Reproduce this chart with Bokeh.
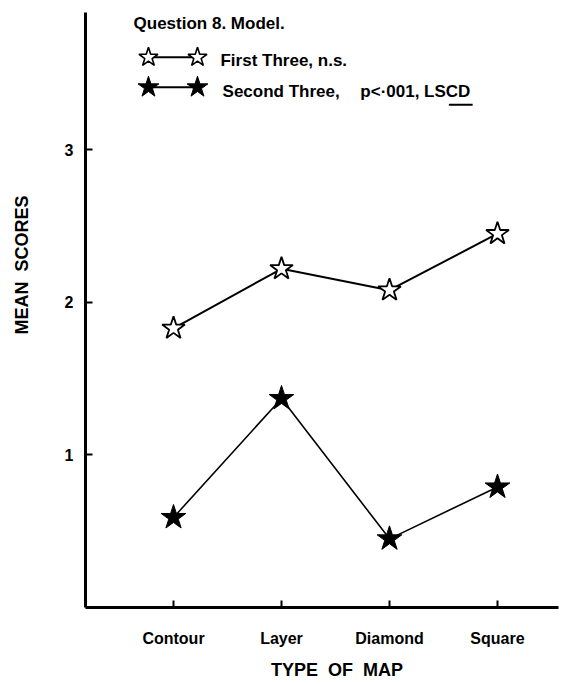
import math
from bokeh.plotting import figure
from bokeh.models import Label, FixedTicker, ColumnDataSource
from bokeh.embed import file_html
from bokeh.resources import INLINE

# ---- data ----
categories = ["Contour", "Layer", "Diamond", "Square"]
first_three = [1.83, 2.22, 2.08, 2.45]
second_three = [0.59, 1.37, 0.45, 0.79]
y_ticks = [1, 2, 3]
y_tick_labels = ["1", "2", "3"]

FONT = "Liberation Sans"
NB = "\u00a0"
xpos = list(range(1, len(categories) + 1))

p = figure(width=560, height=682, output_backend="svg", toolbar_location=None,
           x_range=(0.185, 4.565), y_range=(0, 3.9),
           min_border_left=85, min_border_right=2, min_border_top=12, min_border_bottom=73)
p.outline_line_color = None
p.xgrid.visible = False
p.ygrid.visible = False
p.background_fill_color = "white"
p.border_fill_color = "white"

# axes
for ax in (p.xaxis[0], p.yaxis[0]):
    ax.axis_line_width = 3
    ax.axis_line_color = "black"
    ax.major_tick_line_width = 2
    ax.major_tick_in = 7
    ax.major_tick_out = 0
    ax.minor_tick_line_color = None
    ax.major_label_text_font = FONT
    ax.major_label_text_font_style = "bold"
    ax.major_label_text_color = "black"
    ax.major_label_text_font_size = "16px"
    ax.axis_label_text_font = FONT
    ax.axis_label_text_font_style = "bold"
    ax.axis_label_text_color = "black"
    ax.axis_label_text_font_size = "18px"

p.xaxis.ticker = FixedTicker(ticks=xpos)
p.xaxis.major_label_overrides = {x: c for x, c in zip(xpos, categories)}
p.xaxis.major_label_standoff = 22
p.xaxis.axis_label = NB * 6 + "TYPE" + NB + " OF" + NB + " MAP"
p.xaxis.axis_label_standoff = 10

p.yaxis.ticker = FixedTicker(ticks=y_ticks)
p.yaxis.major_label_overrides = {t: l for t, l in zip(y_ticks, y_tick_labels)}
p.yaxis.major_label_standoff = 12
p.yaxis.axis_label = NB * 18 + "MEAN" + NB + " SCORES"
p.yaxis.axis_label_standoff = 30

# series
src1 = ColumnDataSource(dict(x=xpos, y=first_three))
src2 = ColumnDataSource(dict(x=xpos, y=second_three))
p.line("x", "y", source=src1, line_color="black", line_width=2)
p.line("x", "y", source=src2, line_color="black", line_width=1.6)
p.scatter("x", "y", source=src1, marker="star", size=24, fill_color="white",
          line_color="black", line_width=1.8)
p.scatter("x", "y", source=src2, marker="star", size=26, fill_color="black",
          line_color="black", line_width=1)

# legend block (drawn manually: star — star), positions in data units
label_style = dict(text_align="left", text_baseline="middle", text_color="black",
                   text_font=FONT, text_font_style="bold", text_font_size="17px")
p.add_layout(Label(x=0.63, y=3.83, text="Question 8. Model.", **label_style))
leg_x = [0.768, 1.222]
row1_y, row2_y = 3.606, 3.41
p.line(leg_x, [row1_y, row1_y], line_color="black", line_width=2)
p.scatter(leg_x, [row1_y, row1_y], marker="star", size=20, fill_color="white",
          line_color="black", line_width=1.6)
p.line(leg_x, [row2_y, row2_y], line_color="black", line_width=2)
p.scatter(leg_x, [row2_y, row2_y], marker="star", size=22, fill_color="black",
          line_color="black")
p.add_layout(Label(x=1.435, y=row1_y - 0.02, text="First Three, n.s.", **label_style))
p.add_layout(Label(x=1.454, y=row2_y - 0.03, text="Second Three,", **label_style))
p.add_layout(Label(x=2.73, y=row2_y - 0.03, text="p<·001, LSCD", **label_style))
p.line([3.55, 3.77], [3.295, 3.295], line_color="black", line_width=2)

open("out.html", "w").write(file_html(p, INLINE))
